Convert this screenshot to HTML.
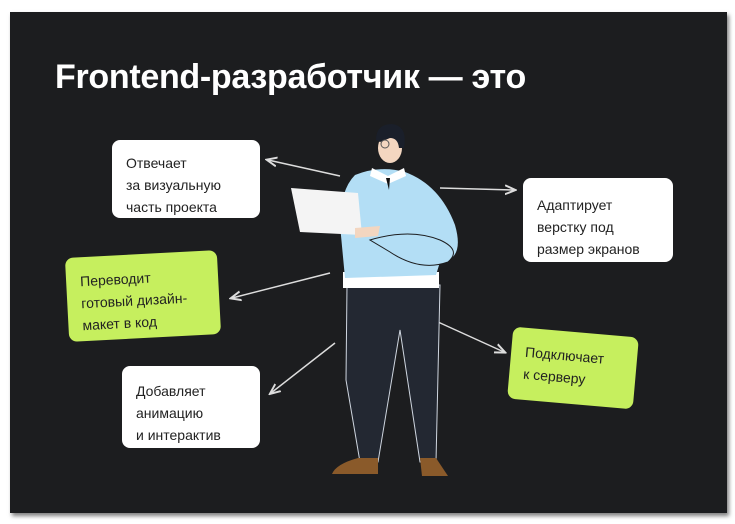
<!DOCTYPE html>
<html><head><meta charset="utf-8"><style>
body{margin:0;width:735px;height:524px;background:#fff;position:relative;overflow:hidden;font-family:"Liberation Sans","Noto Sans CJK SC",sans-serif}
.card{position:absolute;left:10px;top:12px;width:717px;height:501px;background:#1c1d1f;box-shadow:2px 3px 4px rgba(0,0,0,.5)}
h1{position:absolute;left:55px;top:58px;margin:0;font-size:34px;font-weight:bold;color:#fff;letter-spacing:-0.3px}
.b{position:absolute;border-radius:8px;font-size:14px;line-height:22px;color:#222;box-sizing:border-box;padding:13px 14px}
.w{background:#fff}.g{background:#c6ef5e}
</style></head><body>
<div class="card"></div>
<h1>Frontend-разработчик — это</h1>
<div class="b w" style="left:112px;top:140px;width:148px;height:78px;padding-top:12px">Отвечает<br>за визуальную<br>часть проекта</div>
<div class="b w" style="left:523px;top:178px;width:150px;height:84px;padding:16px 14px">Адаптирует<br>верстку под<br>размер экранов</div>
<div class="b g" style="left:67px;top:254px;width:152px;height:84px;transform:rotate(-3deg);padding:13px 14px">Переводит<br>готовый дизайн-<br>макет в код</div>
<div class="b g" style="left:510px;top:332px;width:126px;height:72px;transform:rotate(5deg);padding:13px 14px">Подключает<br>к серверу</div>
<div class="b w" style="left:122px;top:366px;width:138px;height:82px;padding:14px 14px">Добавляет<br>анимацию<br>и интерактив</div>
<svg style="position:absolute;left:0;top:0" width="735" height="524">
<defs><marker id="a" markerWidth="8" markerHeight="8" refX="6" refY="4" orient="auto"><path d="M0,1 L7,4 L0,7" fill="none" stroke="#ddd" stroke-width="1.3"/></marker></defs>
<g stroke="#ddd" stroke-width="1.5" marker-end="url(#a)">
<line x1="340" y1="176" x2="268" y2="160"/>
<line x1="440" y1="188" x2="514" y2="190"/>
<line x1="330" y1="273" x2="232" y2="298"/>
<line x1="335" y1="343" x2="271" y2="393"/>
<line x1="438" y1="322" x2="504" y2="352"/>
</g>
<!-- legs -->
<path d="M347,285 L440,285 L436,462 L420,462 L400,330 L378,462 L360,462 L346,380 Z" fill="#232832" stroke="#cfd6e0" stroke-width="1"/>
<!-- shoes -->
<path d="M358,458 L378,458 L378,474 L332,474 Q336,464 358,458Z" fill="#8a5a2a"/>
<path d="M420,458 L436,458 L448,476 L422,476Z" fill="#8a5a2a"/>
<!-- shirt hem -->
<rect x="343" y="272" width="96" height="16" fill="#fff"/>
<!-- sweater -->
<path d="M355,175 Q380,165 405,172 Q440,185 455,225 Q465,260 440,262 L436,275 L345,278 L340,225 Q340,190 355,175Z" fill="#b3def5"/>
<path d="M370,240 Q410,228 440,240 Q462,250 448,262 Q420,272 390,252Z" fill="#b3def5" stroke="#1c1d1f" stroke-width="1"/>
<!-- collar -->
<path d="M372,168 L388,176 L404,168 L406,176 L388,184 L370,176Z" fill="#fff"/>
<path d="M386,178 L390,178 L389,190Z" fill="#111"/>
<!-- head -->
<ellipse cx="390" cy="148" rx="12" ry="15" fill="#f3d6c0"/>
<path d="M376,140 Q376,124 392,124 Q408,126 404,148 L399,148 Q398,138 390,138 L380,142Z" fill="#1a1f2a"/>
<circle cx="385" cy="144" r="4" fill="none" stroke="#555" stroke-width="1"/>
<!-- laptop -->
<path d="M291,188 L358,193 L362,235 L300,232Z" fill="#f4f4f4"/>
<path d="M355,228 L380,226 L378,236 L355,238Z" fill="#f3d6c0"/>
</svg>
</body></html>
